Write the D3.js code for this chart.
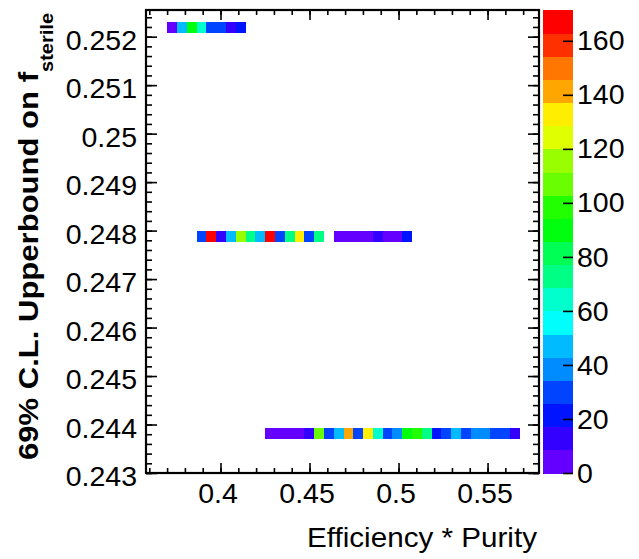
<!DOCTYPE html>
<html><head><meta charset="utf-8">
<script src="https://cdn.jsdelivr.net/npm/d3@7/dist/d3.min.js"></script>
<style>
body{margin:0;background:#fff}
svg{display:block}
text{font-family:"Liberation Sans",Arial,Helvetica,sans-serif;fill:#000}
</style>
</head><body>
<svg id="c" width="639" height="559"></svg>
<script>
// ---- data ----
const rowValues = [0.25219, 0.24787, 0.24381];      // y (upper bound) of each row of cells
const rowStarts = [0.3701, 0.3866, 0.4251];         // x of first cell edge in each row
const binWidth = 0.0055;                             // efficiency*purity bin width
const binHeight = 0.000228;                          // upper-bound bin height
const countsTop = [5, 45, 92, 64, 30, 30, 13, 25];
const countsMid = [28, 167, 12, 47, 115, 75, 50, 167, 30, 73, 132, 33, 75, 0, 5, 5, 5, 5, 13, 5, 5, 25];
const countsBot = [5, 5, 5, 5, 13, 106, 28, 47, 142, 30, 132, 63, 30, 35, 90, 100, 75, 22, 28, 47, 28, 40, 35, 28, 28, 13];
const rowCounts = [countsTop, countsMid, countsBot];
const xTicks = [0.4, 0.45, 0.5, 0.55];
const yTicks = [0.243, 0.244, 0.245, 0.246, 0.247, 0.248, 0.249, 0.25, 0.251, 0.252];
const zTicks = [0, 20, 40, 60, 80, 100, 120, 140, 160];
const zMax = 171.4;
const nContours = 20;
const xDomain = [0.35815, 0.5789];
const yDomain = [0.243, 0.25255];

// ---- layout ----
const svg = d3.select("#c");
const F = {l:146, r:539, t:10, b:473};
const CB = {l:543, r:573};

const x = d3.scaleLinear().domain(xDomain).range([F.l, F.r]);
const y = d3.scaleLinear().domain(yDomain).range([F.b, F.t]);
const z = d3.scaleLinear().domain([0, zMax]).range([F.b, F.t]);

// ROOT-like "pretty" rainbow palette (50 colours), 20 contour levels
function contourColor(k){
  const nc = 50;
  let idx = Math.floor(0.01 + (k + 0.99) * nc / nContours);
  idx = Math.max(0, Math.min(nc - 1, idx));
  const hue = 280 - (idx + 1) * (280 / nc);
  return d3.hsl(hue, 1, 0.5).formatHex();
}
function colorFor(v){
  let k = Math.floor(v / (zMax / nContours));
  k = Math.max(0, Math.min(nContours - 1, k));
  return contourColor(k);
}

// ---- cells ----
const cells = [];
rowCounts.forEach((arr, r) => {
  arr.forEach((v, i) => {
    if (v > 0) cells.push({x0: rowStarts[r] + i * binWidth, x1: rowStarts[r] + (i + 1) * binWidth,
                           y0: rowValues[r] - binHeight / 2, y1: rowValues[r] + binHeight / 2, v});
  });
});
svg.append("g").selectAll("rect").data(cells).join("rect")
  .attr("x", d => x(d.x0)).attr("width", d => x(d.x1) - x(d.x0))
  .attr("y", d => y(d.y1)).attr("height", d => y(d.y0) - y(d.y1))
  .attr("fill", d => colorFor(d.v)).attr("shape-rendering", "crispEdges");

// ---- axes ----
const fmt = d => String(+(+d).toFixed(3));
function styleAxis(g){
  g.select(".domain").remove();
  g.selectAll("line").attr("stroke", "#000").attr("stroke-width", 1.6);
}
const xMinor = d3.range(0.36, 0.579, 0.01).map(v => +v.toFixed(3));
const yMinor = d3.range(0.243, 0.25255, 0.0002).map(v => +v.toFixed(4));

// bottom
svg.append("g").attr("transform", `translate(0,${F.b})`)
  .call(d3.axisBottom(x).tickValues(xMinor).tickSize(-5).tickFormat("")).call(styleAxis);
svg.append("g").attr("transform", `translate(0,${F.b})`)
  .call(d3.axisBottom(x).tickValues(xTicks).tickSize(-10).tickPadding(10).tickFormat(fmt))
  .call(styleAxis)
  .call(g => g.selectAll("text").attr("font-size", 28.5).attr("dx", -3));
// top
svg.append("g").attr("transform", `translate(0,${F.t})`)
  .call(d3.axisTop(x).tickValues(xMinor).tickSize(-5).tickFormat("")).call(styleAxis);
svg.append("g").attr("transform", `translate(0,${F.t})`)
  .call(d3.axisTop(x).tickValues(xTicks).tickSize(-10).tickFormat("")).call(styleAxis);
// left
svg.append("g").attr("transform", `translate(${F.l},0)`)
  .call(d3.axisLeft(y).tickValues(yMinor).tickSize(-6).tickFormat("")).call(styleAxis);
svg.append("g").attr("transform", `translate(${F.l},0)`)
  .call(d3.axisLeft(y).tickValues(yTicks).tickSize(-11).tickPadding(9).tickFormat(fmt))
  .call(styleAxis)
  .call(g => g.selectAll("text").attr("font-size", 28.5).attr("dy", "0.44em"));
// right
svg.append("g").attr("transform", `translate(${F.r},0)`)
  .call(d3.axisRight(y).tickValues(yMinor).tickSize(-6).tickFormat("")).call(styleAxis);
svg.append("g").attr("transform", `translate(${F.r},0)`)
  .call(d3.axisRight(y).tickValues(yTicks).tickSize(-11).tickFormat("")).call(styleAxis);

// frame
svg.append("rect").attr("x", F.l).attr("y", F.t).attr("width", F.r - F.l).attr("height", F.b - F.t)
  .attr("fill", "none").attr("stroke", "#000").attr("stroke-width", 2.2);

// ---- colour bar ----
const bands = d3.range(nContours).map(k => ({k, v0: k * zMax / nContours, v1: (k + 1) * zMax / nContours}));
svg.append("g").selectAll("rect").data(bands).join("rect")
  .attr("x", CB.l).attr("width", CB.r - CB.l)
  .attr("y", d => z(d.v1)).attr("height", d => z(d.v0) - z(d.v1) + 0.5)
  .attr("fill", d => contourColor(d.k)).attr("shape-rendering", "crispEdges");
svg.append("g").attr("transform", `translate(${CB.r},0)`)
  .call(d3.axisRight(z).tickValues(zTicks).tickSize(-10).tickPadding(4).tickFormat(d => d))
  .call(styleAxis)
  .call(g => g.selectAll("text").attr("font-size", 28.5));

// ---- titles ----
svg.append("text").attr("x", 537).attr("y", 547).attr("text-anchor", "end")
  .attr("font-size", 28.5).attr("textLength", 230).attr("lengthAdjust", "spacingAndGlyphs")
  .text("Efficiency * Purity");

const yt = svg.append("text").attr("transform", "translate(38,72) rotate(-90)")
  .attr("text-anchor", "end").attr("font-weight", "bold").attr("font-size", 28.5);
yt.append("tspan").attr("textLength", 388).attr("lengthAdjust", "spacingAndGlyphs")
  .text("69% C.L. Upperbound on f");
svg.append("text").attr("transform", "translate(53,13) rotate(-90)")
  .attr("text-anchor", "end").attr("font-weight", "bold").attr("font-size", 19)
  .attr("textLength", 59).attr("lengthAdjust", "spacingAndGlyphs").text("sterile");
</script>
</body></html>
